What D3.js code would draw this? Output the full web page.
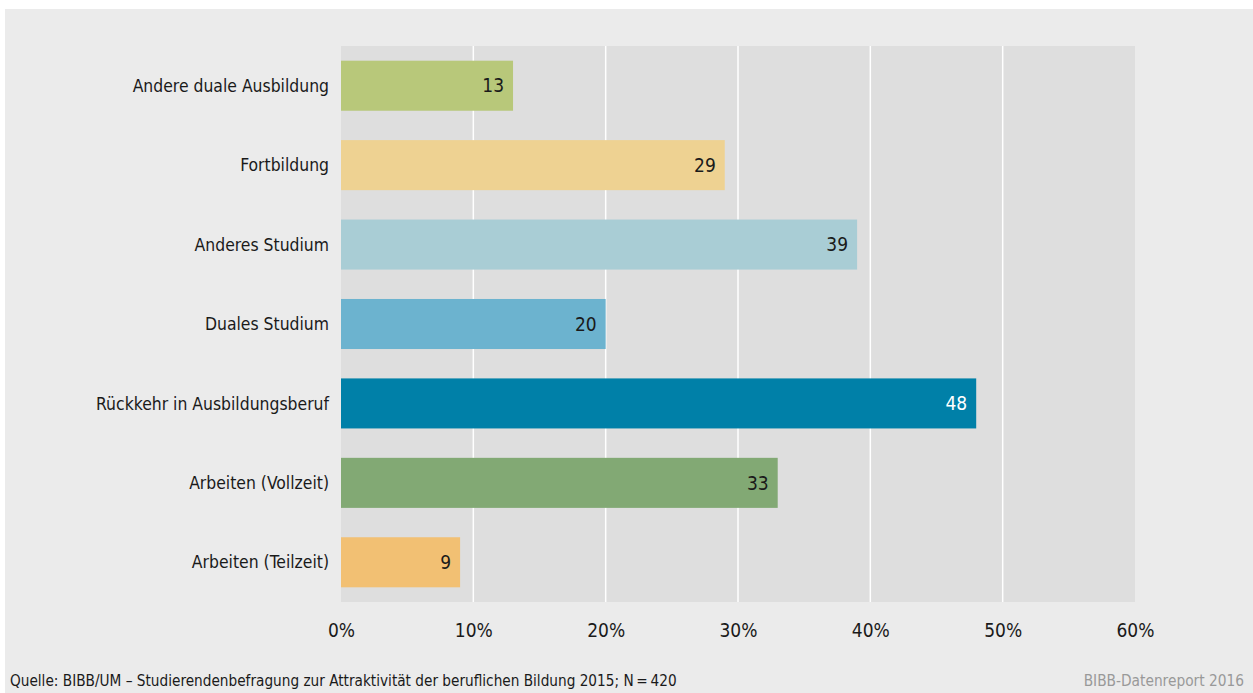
<!DOCTYPE html>
<html><head><meta charset="utf-8">
<script src="https://cdn.jsdelivr.net/npm/d3@7"></script>
<style>body{margin:0;background:#fff}svg{display:block}text{font-family:"DejaVu Sans Condensed","DejaVu Sans",sans-serif}</style>
</head><body>
<script>
const categories=["Andere duale Ausbildung","Fortbildung","Anderes Studium","Duales Studium","Rückkehr in Ausbildungsberuf","Arbeiten (Vollzeit)","Arbeiten (Teilzeit)"];
const values=[13,29,39,20,48,33,9];
const colors=["#b8c87a","#eed292","#a9cdd5","#6cb3cf","#0080a8","#82a974","#f2c073"];
const labelColors=["#1a1a1a","#1a1a1a","#1a1a1a","#1a1a1a","#ffffff","#1a1a1a","#1a1a1a"];
const ticks=[0,10,20,30,40,50,60];
const source="Quelle: BIBB/UM – Studierendenbefragung zur Attraktivität der beruflichen Bildung 2015; N\u2009=\u2009420";
const credit="BIBB-Datenreport 2016";

const W=1253,H=693;
const svg=d3.select("body").append("svg").attr("width",W).attr("height",H);
svg.append("rect").attr("x",5).attr("y",9).attr("width",W-5).attr("height",H-9).attr("fill","#ebebeb");
const x=d3.scaleLinear().domain([0,60]).range([341,1135]);
const y=d3.scaleBand().domain(categories).range([46,602]).paddingInner(0.37).paddingOuter(0.185);
svg.append("rect").attr("x",x(0)).attr("y",46).attr("width",x(60)-x(0)).attr("height",556).attr("fill","#dedede");
svg.append("g").selectAll("line").data(ticks.filter(t=>t>0&&t<60)).join("line")
 .attr("x1",d=>x(d)).attr("x2",d=>x(d)).attr("y1",46).attr("y2",602).attr("stroke","#fff").attr("stroke-width",1.5);
svg.append("g").selectAll("rect").data(values).join("rect")
 .attr("x",x(0)).attr("y",(d,i)=>y(categories[i])).attr("width",d=>x(d)-x(0)).attr("height",y.bandwidth())
 .attr("fill",(d,i)=>colors[i]);
svg.append("g").selectAll("text").data(values).join("text")
 .attr("x",d=>x(d)-9).attr("y",(d,i)=>y(categories[i])+y.bandwidth()/2).attr("dy","0.35em")
 .attr("text-anchor","end").attr("font-size",19).attr("fill",(d,i)=>labelColors[i]).text(d=>d);
svg.append("g").selectAll("text").data(categories).join("text")
 .attr("x",329).attr("y",d=>y(d)+y.bandwidth()/2).attr("dy","0.35em")
 .attr("text-anchor","end").attr("font-size",17.4).attr("fill","#1a1a1a").text(d=>d);
const ax=svg.append("g").attr("transform","translate(0,630)")
 .call(d3.axisBottom(x).tickValues(ticks).tickFormat(d=>d+"%").tickSize(0).tickPadding(0));
ax.select(".domain").remove();
ax.selectAll("text").attr("font-size",19).attr("fill","#1a1a1a").attr("dy","0.35em").attr("font-family",null);
svg.append("text").attr("x",10).attr("y",686).attr("font-size",15.2).attr("fill","#1a1a1a").text(source);
svg.append("text").attr("x",1244).attr("y",686).attr("text-anchor","end").attr("font-size",15.3).attr("fill","#999").text(credit);
</script>
</body></html>
